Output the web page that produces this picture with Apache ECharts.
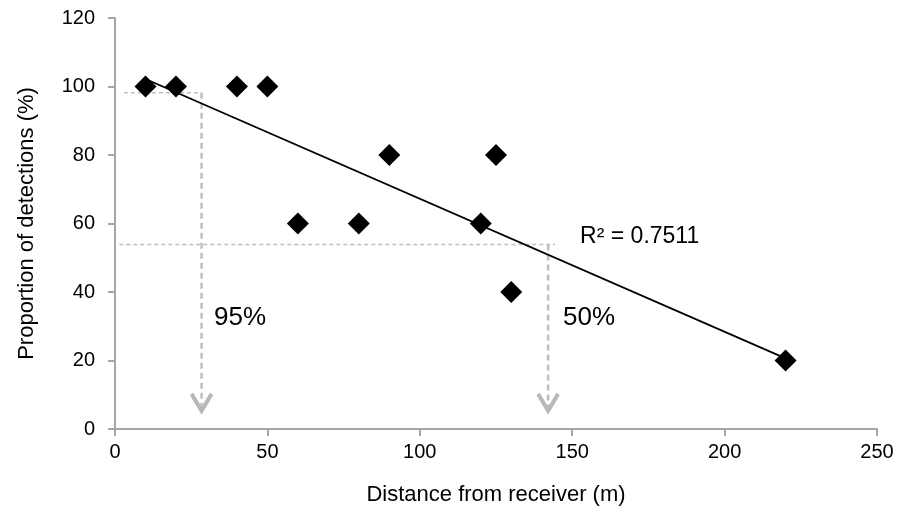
<!DOCTYPE html>
<html>
<head>
<meta charset="utf-8">
<script src="https://cdn.jsdelivr.net/npm/echarts@6/dist/echarts.min.js"></script>
<style>
  html, body { margin: 0; padding: 0; background: #fff; }
  #chart { width: 901px; height: 522px; }
</style>
</head>
<body>
<div id="chart"></div>
<script>
// detections vs distance
var distance = [10, 20, 40, 50, 60, 80, 90, 120, 125, 130, 220];
var detections = [100, 100, 100, 100, 60, 60, 80, 60, 80, 40, 20];

// fitted line end points
var trendX = [10, 220];
var trendY = [102.2, 20.6];

// dashed guides with arrows: 95% and 50%
var guideY = [98.2, 53.9];
var guideStartX = [2.9, 1.4];
var guideVertX = [28.4, 142.1];
var guideEndX = [28.4, 144.4];
var arrowTipY = [5.0, 5.0];

// text notes
var pctText = ["95%", "50%"];
var pctX = [32.5, 147];
var pctY = [32.4, 32.4];
var r2Text = "R\u00B2 = 0.7511";
var r2Pos = [152.6, 56.2];

var xTicks = [0, 250, 50];
var yTicks = [0, 120, 20];

var FONT = "Liberation Sans";
var AXIS_GRAY = "#a6a6a6";
var GUIDE_GRAY = "#bfbfbf";

var pts = [], i;
for (i = 0; i < distance.length; i++) pts.push([distance[i], detections[i]]);
var trend = [];
for (i = 0; i < trendX.length; i++) trend.push([trendX[i], trendY[i]]);
var guides = [];
for (i = 0; i < guideY.length; i++) guides.push([guideStartX[i], guideY[i], guideVertX[i], guideEndX[i], arrowTipY[i]]);
var pctData = [];
for (i = 0; i < pctText.length; i++) pctData.push({name: pctText[i], value: [pctX[i], pctY[i]]});

var myChart = echarts.init(document.getElementById("chart"), null, {renderer: "canvas"});

function renderGuide(params, api) {
    var y = api.value(1);
    var a = api.coord([api.value(0), y]);
    var b = api.coord([api.value(3), y]);
    var v = api.coord([api.value(2), y]);
    var tip = api.coord([api.value(2), api.value(4)]);
    return {
        type: "group",
        children: [
            {type: "line", shape: {x1: a[0], y1: a[1], x2: b[0], y2: b[1]},
             style: {stroke: GUIDE_GRAY, lineWidth: 1.5, lineDash: [4, 3]}},
            {type: "line", shape: {x1: v[0], y1: v[1], x2: tip[0], y2: tip[1] - 2},
             style: {stroke: GUIDE_GRAY, lineWidth: 2.5, lineDash: [6, 4]}},
            {type: "polyline", shape: {points: [[tip[0] - 10, tip[1] - 18], [tip[0], tip[1] - 1], [tip[0] + 10, tip[1] - 18]]},
             style: {stroke: "#b8b8b8", lineWidth: 4, fill: null}}
        ]
    };
}

var noteLabel = {show: true, position: [0, 0], align: "left", verticalAlign: "middle",
                 formatter: "{b}", fontFamily: FONT, color: "#000"};

var option = {
    animation: false,
    backgroundColor: "#fff",
    grid: {left: 115, right: 24, top: 18, bottom: 93},
    xAxis: {
        type: "value", min: xTicks[0], max: xTicks[1], interval: xTicks[2],
        name: "Distance from receiver (m)", nameLocation: "middle", nameGap: 55,
        nameTextStyle: {fontFamily: FONT, fontSize: 22, color: "#000"},
        axisLine: {lineStyle: {color: AXIS_GRAY, width: 2}},
        axisTick: {inside: false, length: 7, lineStyle: {color: AXIS_GRAY, width: 2}},
        axisLabel: {fontFamily: FONT, fontSize: 20, color: "#000", margin: 13},
        splitLine: {show: false}
    },
    yAxis: {
        type: "value", min: yTicks[0], max: yTicks[1], interval: yTicks[2],
        name: "Proportion of detections (%)", nameLocation: "middle", nameGap: 77,
        nameTextStyle: {fontFamily: FONT, fontSize: 22, color: "#000"},
        axisLine: {show: true, lineStyle: {color: AXIS_GRAY, width: 2}},
        axisTick: {show: true, inside: false, length: 7, lineStyle: {color: AXIS_GRAY, width: 2}},
        axisLabel: {fontFamily: FONT, fontSize: 20, color: "#000", margin: 20},
        splitLine: {show: false}
    },
    series: [
        {type: "custom", renderItem: renderGuide, data: guides, silent: true, z: 1},
        {type: "line", data: trend, symbol: "none", lineStyle: {color: "#000", width: 1.8}, z: 2},
        {type: "scatter", data: pts, symbol: "diamond", symbolSize: [22, 22],
         itemStyle: {color: "#000", opacity: 1}, z: 3},
        {type: "scatter", data: pctData, symbolSize: 0, z: 4, itemStyle: {opacity: 1},
         label: echarts.util.extend({fontSize: 26}, noteLabel)},
        {type: "scatter", data: [{name: r2Text, value: r2Pos}], symbolSize: 0, z: 4, itemStyle: {opacity: 1},
         label: echarts.util.extend({fontSize: 23}, noteLabel)}
    ]
};
myChart.setOption(option);
</script>
</body>
</html>
